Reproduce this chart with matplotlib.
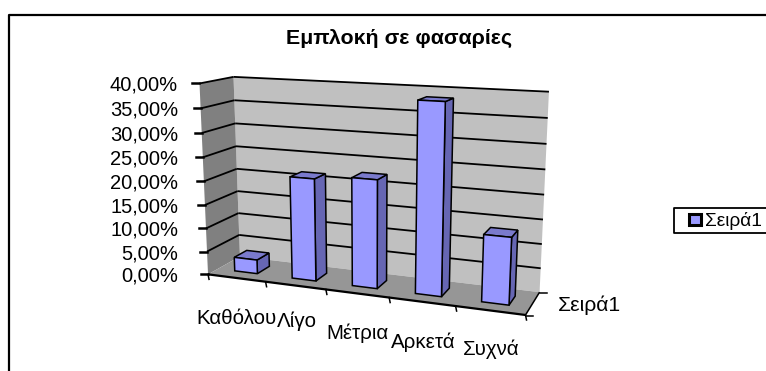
import numpy as np
import matplotlib
matplotlib.use("Agg")
import matplotlib.pyplot as plt

plt.rcParams['font.family'] = ['Liberation Sans', 'DejaVu Sans']

title = "Εμπλοκή σε φασαρίες"
categories = ["Καθόλου", "Λίγο", "Μέτρια", "Αρκετά", "Συχνά"]
values = [3.0, 21.5, 22.4, 38.4, 13.5]
series_name = "Σειρά1"
y_ticks = [0, 5, 10, 15, 20, 25, 30, 35, 40]

W, H = 766, 371
BAR_FRONT, BAR_SIDE, BAR_TOP = "#9999FF", "#6666B3", "#7A7ACC"
WALL_BACK, WALL_LEFT, FLOOR = "#C0C0C0", "#808080", "#969696"

# Camera for the 3D box: fitted to box corners (category, value, depth) -> pixel.
corners = [
    ((0, 40, 1), (233, 77)), ((5, 40, 1), (549, 92)),
    ((0, 0, 1), (240, 258)), ((5, 0, 1), (540, 290)),
    ((0, 0, 0), (208, 273)), ((5, 0, 0), (525, 317)),
    ((0, 40, 0), (200, 83)),
]
A, b = [], []
for (X, Y, Z), (u, v) in corners:
    A.append([X, Y, Z, 1, 0, 0, 0, 0, -u * X, -u * Y, -u * Z]); b.append(u)
    A.append([0, 0, 0, 0, X, Y, Z, 1, -v * X, -v * Y, -v * Z]); b.append(v)
cam = np.append(np.linalg.lstsq(np.array(A, float), np.array(b, float), rcond=None)[0], 1).reshape(3, 4)


def project(x, y, z):
    p = cam @ np.array([x, y, z, 1.0])
    return p[0] / p[2], p[1] / p[2]


def face(ax, pts, color, z, lw=1.1):
    xy = np.array([project(*p) for p in pts])
    ax.fill(xy[:, 0], xy[:, 1], facecolor=color, edgecolor="black", linewidth=lw, zorder=z)


def wall(ax, pts, color):
    xy = np.array([project(*p) for p in pts])
    ax.fill(xy[:, 0], xy[:, 1], facecolor=color, edgecolor="none", zorder=1)


def seg(ax, a, b, lw=1.3, z=2):
    pa, pb = project(*a), project(*b)
    ax.plot([pa[0], pb[0]], [pa[1], pb[1]], color="black", lw=lw, zorder=z, solid_capstyle="butt")


fig = plt.figure(figsize=(W / 100, H / 100), dpi=100)
ax = fig.add_axes([0, 0, 1, 1])
ax.set_xlim(0, W)
ax.set_ylim(H, 0)
ax.axis("off")

# Chart frame: only the left and top edges fall inside the canvas
ax.plot([9, 9, W], [H, 15, 15], color="black", lw=1.6, zorder=1)

# Box walls and floor
top = y_ticks[-1]
n = len(categories)
wall(ax, [(0, 0, 1), (n, 0, 1), (n, top, 1), (0, top, 1)], WALL_BACK)
wall(ax, [(0, 0, 0), (0, 0, 1), (0, top, 1), (0, top, 0)], WALL_LEFT)
wall(ax, [(0, 0, 0), (n, 0, 0), (n, 0, 1), (0, 0, 1)], FLOOR)

# Gridlines, value ticks and labels
for t in y_ticks:
    if t > 0:
        seg(ax, (0, t, 0), (0, t, 1))
        seg(ax, (0, t, 1), (n, t, 1))
    fx, fy = project(0, t, 0)
    ax.plot([fx - 7, fx], [fy, fy], color="black", lw=1.8, zorder=2)
    ax.text(178, fy + 2, f"{t:.2f}%".replace(".", ","), ha="right", va="center", fontsize=14.5, color="black")

# Category ticks along the front of the floor, depth ticks on the right
seg(ax, (0, 0, 0), (n, 0, 0), lw=1.6)
for i in range(n + 1):
    px, py = project(i, 0, 0)
    ax.plot([px, px + 1], [py, py + 5], color="black", lw=1.1, zorder=2)
seg(ax, (n, 0, 0), (n, 0, 1), lw=1.1)
for d in (0, 1):
    px, py = project(n, 0, d)
    ax.plot([px, px + 7], [py + 1, py + 1], color="black", lw=1.1, zorder=2)

# Bars
bar_half, z0, z1 = 0.2, 0.3, 0.7
for i, val in enumerate(values):
    l, r = i + 0.5 - bar_half, i + 0.5 + bar_half
    zo = 5 + i
    face(ax, [(r, 0, z0), (r, 0, z1), (r, val, z1), (r, val, z0)], BAR_SIDE, zo)
    face(ax, [(l, val, z0), (r, val, z0), (r, val, z1), (l, val, z1)], BAR_TOP, zo)
    face(ax, [(l, 0, z0), (r, 0, z0), (r, val, z0), (l, val, z0)], BAR_FRONT, zo)

# Category labels sit on a staggered baseline
label_x = [237, 297, 358, 423, 491]
label_y = [319, 321, 333, 342, 349]
for name, lx, ly in zip(categories, label_x, label_y):
    ax.text(lx, ly, name, ha="center", va="center", fontsize=14.8, color="black")
ax.text(589, 305, series_name, ha="center", va="center", fontsize=15.2, color="black")

ax.text(399.5, 38, title, ha="center", va="center", fontsize=15.4, fontweight="bold", color="black")

# Legend box runs off the right edge of the canvas
ax.plot([W, 674, 674, W], [208, 208, 233, 233], color="black", lw=1.3, zorder=3)
ax.fill([689, 701, 701, 689], [214, 214, 225, 225], facecolor=BAR_FRONT, edgecolor="black", lw=2.2, zorder=4)
ax.text(705, 220.5, series_name, ha="left", va="center", fontsize=13.8, color="black", zorder=4)

fig.savefig("out.png", dpi=100)
